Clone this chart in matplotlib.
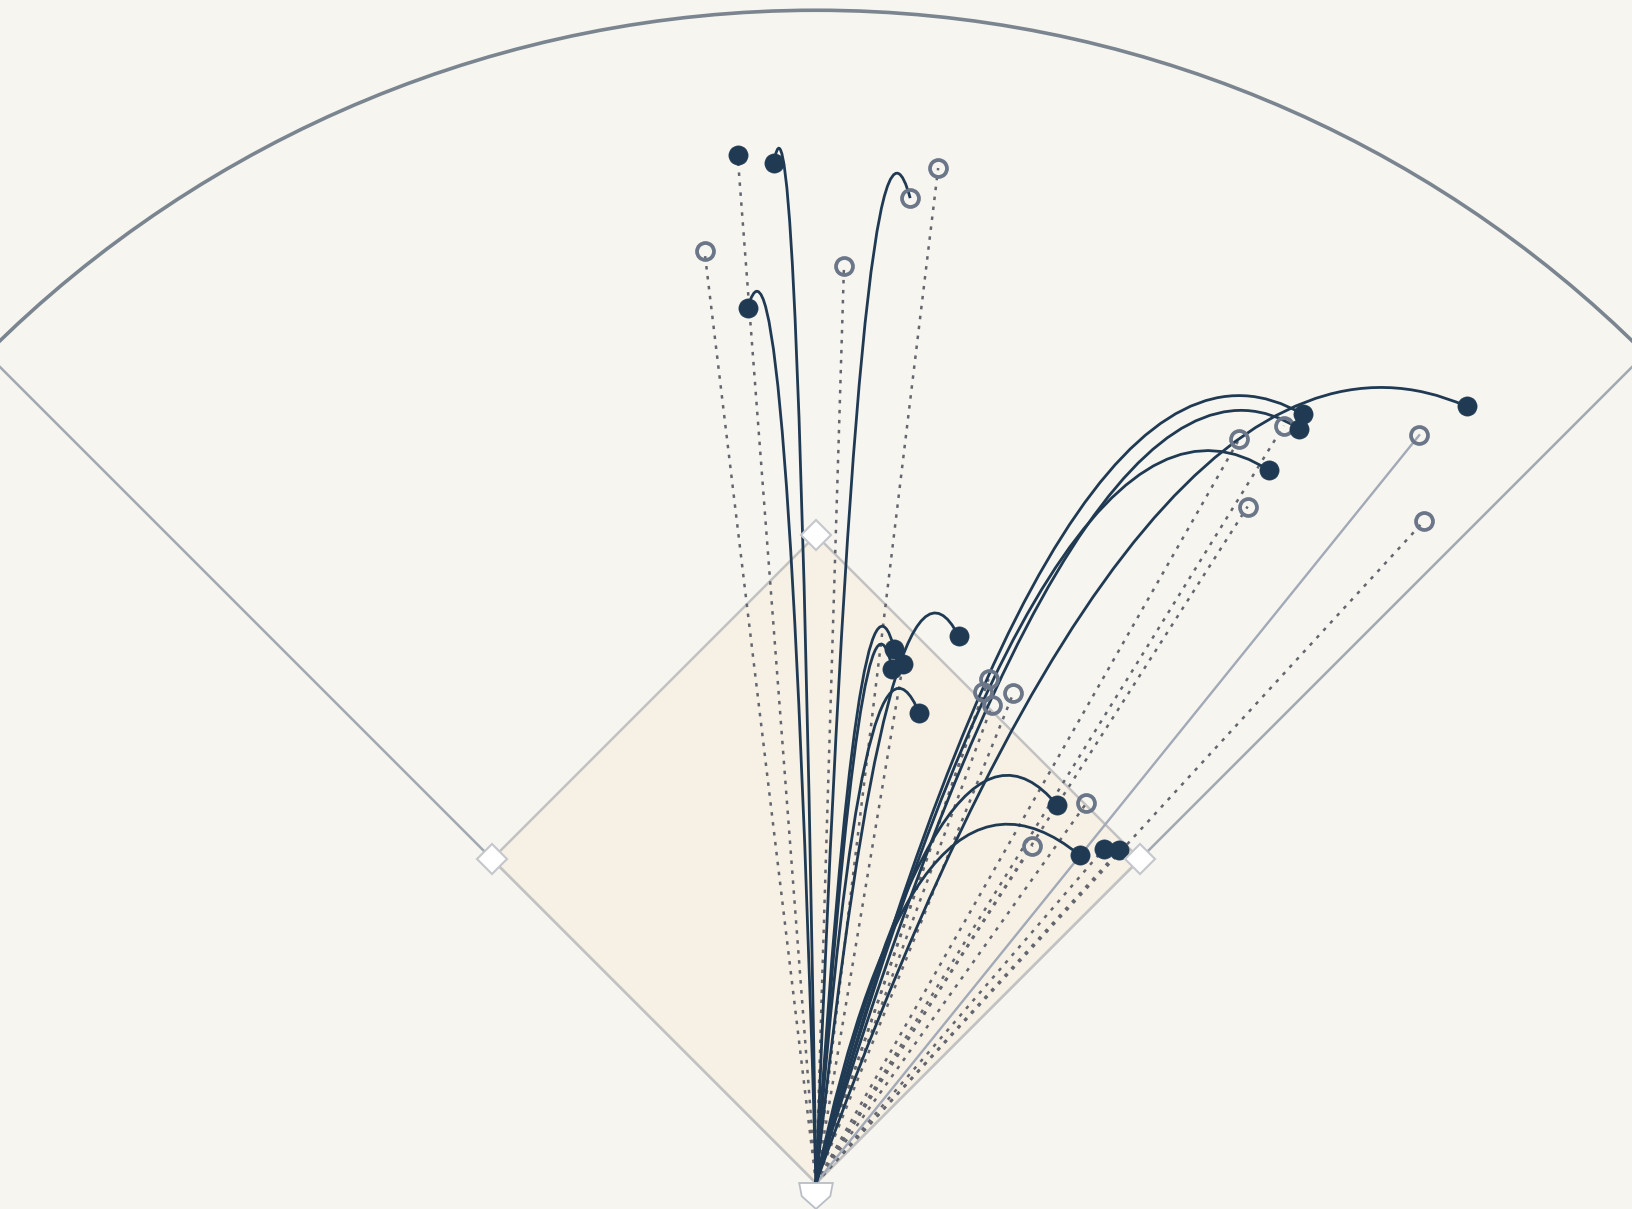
import numpy as np
import matplotlib
matplotlib.use("Agg")
import matplotlib.pyplot as plt
from matplotlib.path import Path
from matplotlib.patches import PathPatch, Polygon, Arc

# batted balls with a tracked flight (landing spot + apex of the drawn arc), feet from home
curve_x = [-8.3, -13.4, 28.0, 15.4, 15.0, 20.3, 47.4, 51.8, 95.7, 94.9, 89.0, 127.8, 18.5]
curve_y = [200.4, 172.0, 107.5, 104.9, 101.0, 92.3, 74.2, 64.4, 151.0, 148.2, 140.0, 152.6, 193.5]
apex_x = [-7.3, -11.6, 23.4, 13.0, 12.8, 16.3, 37.6, 37.6, 83.1, 83.5, 77.0, 111.0, 15.9]
apex_y = [203.3, 175.2, 112.0, 109.4, 105.9, 97.2, 80.1, 70.5, 154.7, 151.8, 143.9, 156.3, 198.4]
curve_hit = [True, True, True, True, True, True, True, True, True, True, True, True, False]

# batted balls drawn as straight lines from home
line_x = [-15.4, 17.1, 56.5, 59.6, -21.9, 5.5, 24.0, 33.9, 32.9, 34.6, 38.8, 53.1, 42.5,
          83.1, 91.9, 84.8, 119.5, 118.5]
line_y = [202.0, 102.0, 65.6, 65.4, 183.1, 180.2, 199.4, 99.0, 96.5, 93.9, 96.3, 74.6, 66.3,
          146.1, 148.8, 132.9, 130.1, 146.9]
line_hit = [True, True, True, True] + [False] * 14
line_kind = ["dotted"] * 17 + ["solid"]

BASE = 90.0
WALL = 230.4

BG = "#f6f5f0"
INFIELD = "#f6f0e5"
NAVY = "#1f3a52"
RING = "#6b7689"
DOT = "#63666e"

fig = plt.figure(figsize=(16.32, 12.09), dpi=100)
fig.patch.set_facecolor(BG)
ax = fig.add_axes([0, 0, 1, 1])
ax.set_facecolor(BG)
px_per_ft = 5.09
ax.set_xlim(-816 / px_per_ft, 816 / px_per_ft)
ax.set_ylim(-26 / px_per_ft, 1183 / px_per_ft)
ax.axis("off")

# foul lines + outfield wall
far = 400
ax.plot([0, -far], [0, far], color="#a2a9b3", lw=1.8, zorder=1)
ax.plot([0, far], [0, far], color="#a2a9b3", lw=1.8, zorder=1)
ax.add_patch(Arc((0, 0), 2 * WALL, 2 * WALL, theta1=0, theta2=180,
                 color="#7a8590", lw=2.6, zorder=1))

# infield diamond
d = BASE / np.sqrt(2)
bases = [(d, d), (0, 2 * d), (-d, d)]
ax.add_patch(Polygon([(0, 0)] + bases, closed=True, facecolor=INFIELD,
                     edgecolor="#c2c2c2", lw=1.8, zorder=1.5))
bx, by = zip(*bases)
ax.plot(bx, by, "D", ms=15.5, mfc="white", mec="#c4c7cc", mew=1.5, ls="none", zorder=6)
ax.add_patch(Polygon([(-3.3, 0), (3.3, 0), (2.8, -2.6), (0, -5.1), (-2.8, -2.6)],
                     closed=True, facecolor="white", edgecolor="#b8bec6", lw=1.3, zorder=6))

# straight trajectories
for x, y, hit, kind in zip(line_x, line_y, line_hit, line_kind):
    if kind == "dotted":
        ax.plot([0, x], [0, y], color=DOT, lw=1.8, ls=(0, (1.4, 2.6)), zorder=2)
    else:
        ax.plot([0, x], [0, y], color="#a2a9b7", lw=1.7, zorder=2)

# curved flights: quadratic bezier whose top point is the apex
for lx, ly, axx, ayy in zip(curve_x, curve_y, apex_x, apex_y):
    cy = ayy + np.sqrt(ayy * (ayy - ly))
    t = cy / (2 * cy - ly)
    cx = (axx - t * t * lx) / (2 * t * (1 - t))
    path = Path([(0, 0), (cx, cy), (lx, ly)], [Path.MOVETO, Path.CURVE3, Path.CURVE3])
    ax.add_patch(PathPatch(path, facecolor="none", edgecolor=NAVY, lw=2.0, zorder=3))

# landing markers
all_x = line_x + curve_x
all_y = line_y + curve_y
all_hit = line_hit + curve_hit
for x, y, hit in zip(all_x, all_y, all_hit):
    if hit:
        ax.plot(x, y, "o", ms=13.8, mfc=NAVY, mec=NAVY, mew=0.5, zorder=5)
    else:
        ax.plot(x, y, "o", ms=12.2, mfc="none", mec=RING, mew=2.7, zorder=4)

fig.savefig("out.png", dpi=100, facecolor=BG)
